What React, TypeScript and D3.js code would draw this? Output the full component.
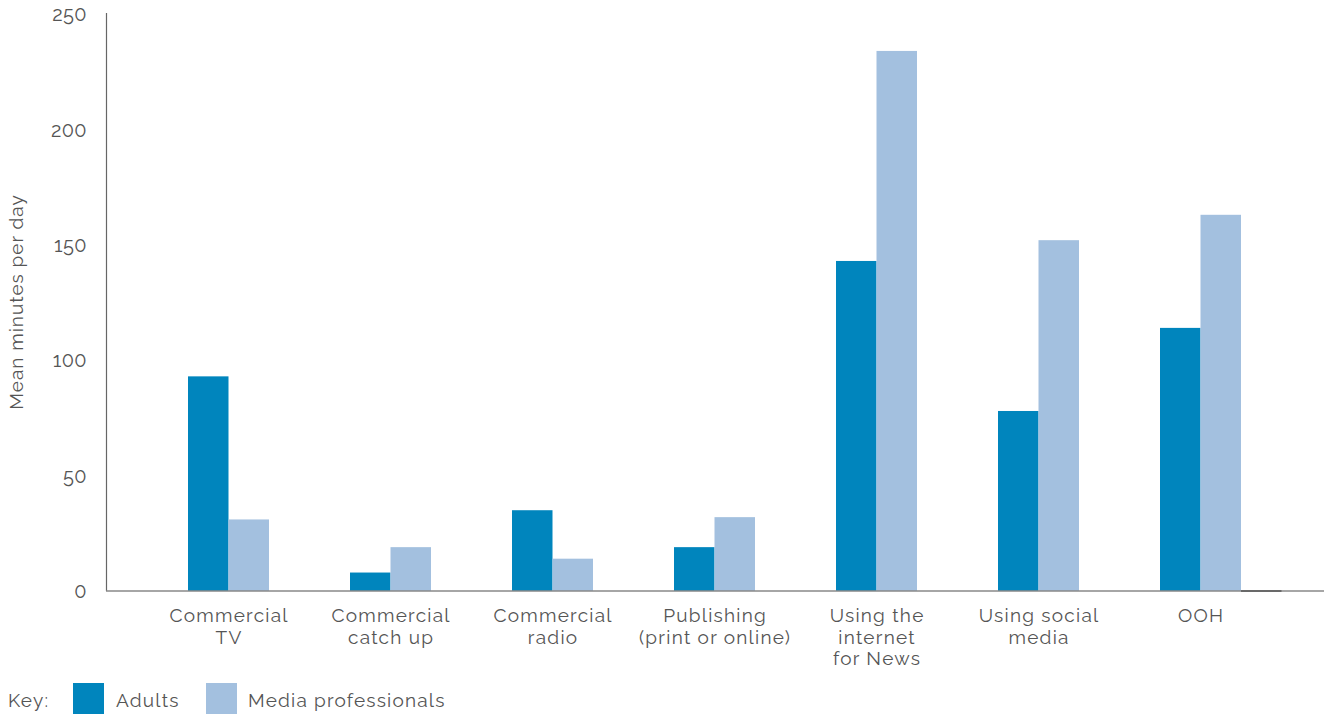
import React from "react";
import * as d3 from "d3";

const categories: string[][] = [
  ["Commercial", "TV"],
  ["Commercial", "catch up"],
  ["Commercial", "radio"],
  ["Publishing", "(print or online)"],
  ["Using the", "internet", "for News"],
  ["Using social", "media"],
  ["OOH"],
];
const adults = [93, 8, 35, 19, 143, 78, 114];
const mediaProfessionals = [31, 19, 14, 32, 234, 152, 163];
const yTicks = [0, 50, 100, 150, 200, 250];
const seriesNames = ["Adults", "Media professionals"];
const seriesColors = ["#0085BD", "#A3C0DF"];

const W = 1325;
const H = 717;
const FONT = "Raleway, Lato, 'Open Sans', sans-serif";
const TEXT = "#555555";

export default function App() {
  const keys = categories.map((c) => c.join(" "));
  const y = d3.scaleLinear().domain([0, 250]).range([591, 14]);
  const x0 = d3.scaleBand<string>().domain(keys).range([188, 1281.5]).paddingInner(0.25).paddingOuter(0);
  const x1 = d3.scaleBand<string>().domain(["Adults", "Media professionals", "_"]).range([0, x0.bandwidth()]);
  const data = [adults, mediaProfessionals];

  return (
    <svg width={W} height={H} style={{ position: "absolute", left: 0, top: 0, background: "#fff" }} fontFamily={FONT}>
      {data.map((vals, si) =>
        vals.map((v, i) => (
          <rect
            key={`${si}-${i}`}
            x={(x0(keys[i]) as number) + (x1(seriesNames[si]) as number)}
            y={y(v)}
            width={x1.bandwidth()}
            height={y(0) - y(v)}
            fill={seriesColors[si]}
          />
        ))
      )}
      <line x1={106.5} x2={106.5} y1={13} y2={591} stroke="#666" strokeWidth={1.2} />
      <line x1={106} x2={1324} y1={591} y2={591} stroke="#888" strokeWidth={1.5} />
      <line x1={(x0(keys[6]) as number) + (x1("_") as number)} x2={(x0(keys[6]) as number) + (x1("_") as number) + x1.bandwidth()} y1={591} y2={591} stroke="#555" strokeWidth={1.5} />
      {yTicks.map((t) => (
        <text key={t} x={87} y={y(t) + 2} textAnchor="end" dominantBaseline="middle" fontSize={20} fill={TEXT} letterSpacing={0.4}>
          {t}
        </text>
      ))}
      <text
        transform={`translate(18,302) rotate(-90)`}
        textAnchor="middle"
        dominantBaseline="middle"
        fontSize={19}
        letterSpacing={1}
        fill={TEXT}
      >
        Mean minutes per day
      </text>
      {categories.map((lines, i) => {
        const cx = (x0(keys[i]) as number) + x1.step() + 0.6;
        return (
          <text key={i} textAnchor="middle" fontSize={19} fill={TEXT} letterSpacing={1.25}>
            {lines.map((l, j) => (
              <tspan key={j} x={cx} y={622 + j * 21.5}>
                {l}
              </tspan>
            ))}
          </text>
        );
      })}
      <text x={8} y={707} fontSize={19} fill={TEXT} letterSpacing={1.2}>Key:</text>
      <rect x={73} y={683} width={31} height={31} fill={seriesColors[0]} />
      <text x={116} y={707} fontSize={19} fill={TEXT} letterSpacing={1.2}>{seriesNames[0]}</text>
      <rect x={206} y={683} width={31} height={31} fill={seriesColors[1]} />
      <text x={248} y={707} fontSize={19} fill={TEXT} letterSpacing={1.2}>{seriesNames[1]}</text>
    </svg>
  );
}
